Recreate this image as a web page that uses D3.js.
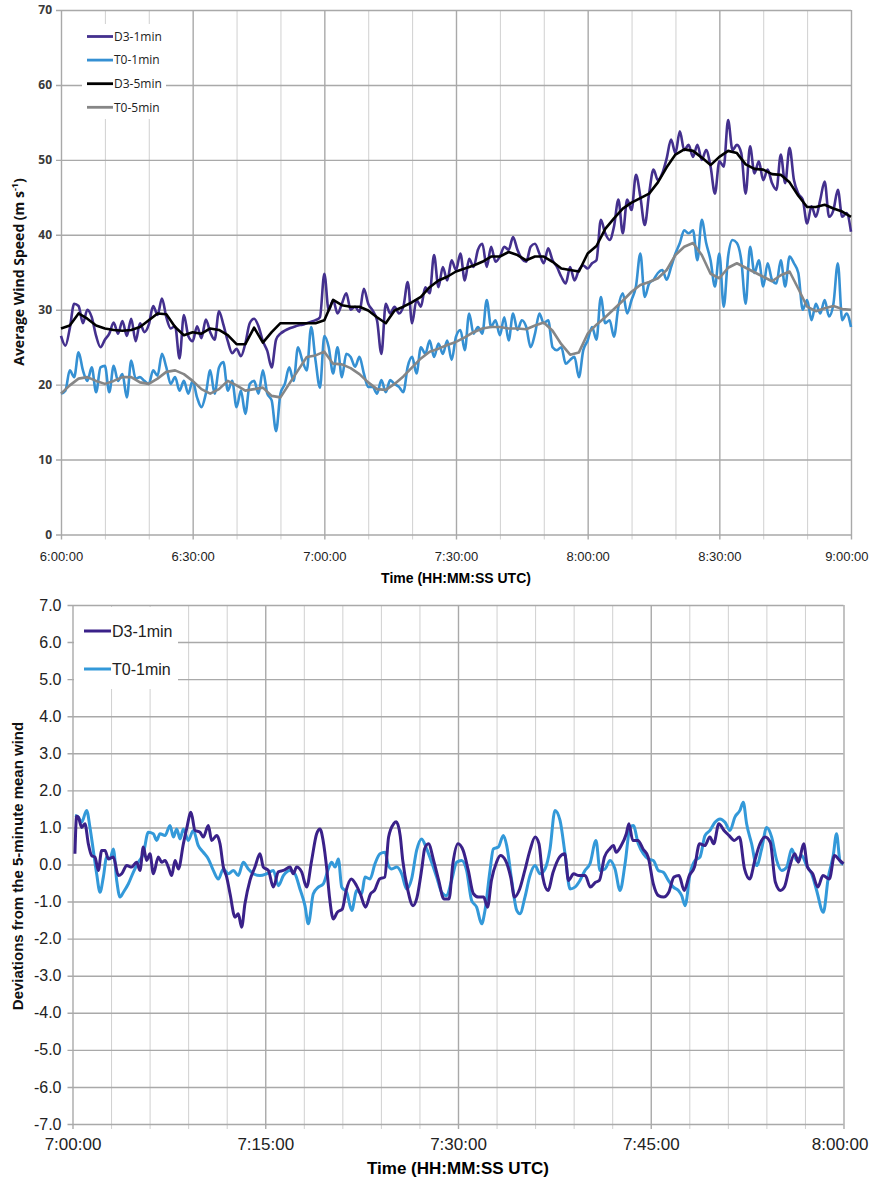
<!DOCTYPE html>
<html>
<head>
<meta charset="utf-8">
<script src="https://cdn.jsdelivr.net/npm/d3@7"></script>
<style>
  body { margin: 0; background: #fff; }
  svg { display: block; }
</style>
</head>
<body>
<svg id="chart" width="869" height="1181"></svg>
<script>
// ---------- top panel: average wind speed, 6:00 - 9:00 ----------
const topSeriesNames = ["D3-1min", "T0-1min", "D3-5min", "T0-5min"];
const topTickLabels = ["6:00:00", "6:30:00", "7:00:00", "7:30:00", "8:00:00", "8:30:00", "9:00:00"];
const topYTicks = [0, 10, 20, 30, 40, 50, 60, 70];

// one value per minute from 6:00
const d3OneMin = [
  26.5, 25.2, 27.5, 30.8, 30.5, 28.2, 30.0, 29.0, 26.5, 25.0,
  26.0, 26.8, 28.3, 26.8, 28.5, 26.5, 28.8, 25.8, 28.2, 27.0,
  28.0, 30.5, 29.3, 31.5, 29.0, 27.5, 27.8, 23.5, 29.3, 26.5,
  25.8, 27.8, 26.2, 28.7, 27.0, 26.0, 29.8, 28.0, 25.8, 24.2,
  24.8, 23.8, 25.5, 28.2, 28.8, 27.8, 25.8, 24.5, 22.3, 26.0,
  26.8, 27.2, 27.5, 27.7, 27.9, 28.0, 28.2, 28.4, 28.6, 29.0,
  34.8, 29.9, 31.3, 29.5, 30.8, 32.2, 30.0, 30.4, 29.7, 32.8,
  30.8, 29.9, 28.6, 24.1, 30.8, 29.5, 30.4, 29.5, 30.4, 33.7,
  28.2, 31.3, 30.4, 33.0, 32.2, 37.3, 33.0, 35.7, 33.9, 36.6,
  35.3, 37.5, 33.9, 36.8, 35.7, 38.0, 38.8, 35.7, 38.4, 36.4,
  37.1, 38.4, 38.0, 39.7, 38.0, 36.8, 36.4, 38.4, 38.8, 37.5,
  36.2, 38.2, 36.6, 35.7, 34.4, 33.5, 35.7, 33.9, 35.3, 35.9,
  35.5, 36.2, 36.6, 42.0, 40.2, 39.3, 41.1, 44.7, 40.2, 44.7,
  43.3, 48.0, 45.1, 41.3, 45.5, 48.7, 47.3, 48.2, 50.2, 52.7,
  50.9, 53.8, 51.3, 52.0, 50.4, 52.0, 50.0, 51.3, 49.1, 45.5,
  49.8, 49.1, 55.3, 51.3, 52.0, 50.9, 45.5, 51.8, 48.2, 49.8,
  47.3, 48.7, 46.9, 46.0, 50.7, 46.9, 51.6, 47.3, 45.5, 44.7,
  41.5, 43.8, 42.4, 44.7, 47.1, 42.4, 43.3, 46.0, 42.4, 42.9, 40.4
];
const t0OneMin = [
  18.8, 19.2, 21.9, 21.0, 24.3, 21.9, 20.5, 22.3, 19.0, 22.3,
  22.5, 19.0, 22.5, 20.5, 21.4, 18.3, 23.2, 20.8, 21.0, 20.5,
  20.1, 21.9, 21.2, 24.1, 22.3, 20.1, 21.0, 19.2, 20.5, 18.8,
  20.5, 18.3, 17.0, 18.8, 21.9, 18.8, 22.3, 23.0, 19.2, 20.5,
  17.0, 19.2, 16.1, 20.1, 20.5, 18.8, 21.9, 18.8, 17.9, 13.8,
  18.8, 20.1, 22.3, 20.5, 25.0, 23.2, 21.9, 27.7, 23.2, 19.6,
  26.5, 25.0, 21.5, 25.0, 21.0, 24.1, 23.7, 22.4, 23.7, 21.5,
  19.7, 19.7, 18.8, 20.6, 19.0, 20.6, 20.1, 19.7, 19.0, 22.4,
  23.7, 21.5, 25.0, 24.1, 25.9, 23.7, 25.5, 24.1, 25.9, 23.3,
  26.4, 27.3, 24.6, 29.5, 26.8, 27.7, 26.8, 31.3, 27.7, 28.6,
  26.6, 29.0, 25.9, 29.5, 27.3, 28.6, 27.7, 25.0, 26.8, 29.5,
  28.2, 28.6, 25.0, 24.6, 25.0, 22.8, 23.3, 23.7, 21.0, 24.6,
  25.9, 27.7, 26.0, 31.7, 28.2, 28.6, 26.4, 30.4, 32.2, 29.5,
  31.3, 33.1, 37.5, 31.7, 33.5, 34.0, 34.9, 35.3, 34.0, 35.7,
  37.5, 38.9, 40.6, 40.2, 40.6, 36.6, 42.0, 38.9, 36.6, 33.1,
  37.5, 30.4, 37.1, 39.3, 38.9, 36.6, 30.8, 38.4, 34.9, 36.6,
  33.1, 36.2, 34.0, 33.5, 36.6, 33.1, 37.1, 36.2, 34.9, 30.0,
  31.3, 28.6, 30.8, 29.5, 31.3, 29.1, 30.8, 36.2, 28.6, 29.5, 27.7
];
// one value every two minutes from 6:00
const d3FiveMin = [
  27.5, 27.9, 29.5, 28.8, 27.9, 27.5, 27.3, 27.2, 27.3, 27.7,
  28.6, 29.5, 29.4, 27.7, 26.6, 27.0, 26.8, 27.5, 27.3, 26.6,
  25.4, 25.4, 27.6, 25.6, 27.0, 28.2, 28.2, 28.2, 28.2, 28.2,
  28.6, 31.3, 30.6, 30.4, 30.4, 29.9, 29.0, 28.2, 29.9, 30.4,
  31.0, 31.7, 33.0, 33.9, 34.4, 35.1, 35.5, 35.9, 36.4, 37.1,
  37.1, 37.7, 37.3, 36.6, 37.1, 37.1, 36.4, 35.5, 35.3, 35.1,
  37.5, 38.5, 40.8, 42.2, 43.5, 44.3, 44.9, 45.5, 47.0, 49.0,
  50.7, 51.4, 51.2, 50.3, 49.3, 50.4, 51.2, 50.9, 49.4, 48.8,
  48.7, 48.1, 48.0, 47.0, 45.2, 43.7, 43.7, 44.0, 43.5, 43.1,
  42.4
];
const t0FiveMin = [
  18.8, 19.9, 20.8, 21.0, 20.5, 20.1, 20.5, 21.0, 21.0, 20.3,
  20.1, 20.8, 21.7, 21.9, 21.4, 20.5, 19.4, 18.8, 19.4, 20.5,
  19.9, 19.2, 19.4, 19.6, 18.5, 18.3, 20.1, 21.9, 23.7, 23.9,
  24.4, 22.8, 22.7, 22.2, 21.4, 20.3, 19.4, 19.3, 20.1, 21.1,
  22.3, 23.5, 24.4, 24.8, 25.3, 25.7, 26.3, 27.0, 27.5, 27.7,
  27.7, 27.5, 27.5, 27.4, 27.9, 28.3, 27.2, 25.4, 24.0, 24.3,
  26.8, 28.0, 29.0, 30.1, 31.2, 32.4, 33.3, 33.7, 34.2, 35.3,
  37.3, 38.4, 38.9, 37.3, 34.8, 34.2, 35.6, 36.2, 35.6, 35.0,
  34.4, 33.8, 34.6, 35.1, 32.8, 30.4, 29.8, 30.2, 30.5, 30.1,
  30.0
];

// ---------- bottom panel: deviations, 7:00 - 8:00 ----------
const botSeriesNames = ["D3-1min", "T0-1min"];
const botTickLabels = ["7:00:00", "7:15:00", "7:30:00", "7:45:00", "8:00:00"];
const botYTicks = [-7, -6, -5, -4, -3, -2, -1, 0, 1, 2, 3, 4, 5, 6, 7];
const botYLabels = ["-7.0", "-6.0", "-5.0", "-4.0", "-3.0", "-2.0", "-1.0", "0.0", "1.0", "2.0", "3.0", "4.0", "5.0", "6.0", "7.0"];

// minutes after 7:00 and deviation (m/s)
const d3DevTime = [
  0.19, 0.32, 0.45, 0.71, 0.97, 1.23, 1.49, 1.75, 2.01, 2.27,
  2.53, 2.79, 3.18, 3.57, 3.83, 4.22, 4.6, 4.99, 5.25, 5.51,
  5.77, 6.03, 6.29, 6.68, 6.94, 7.2, 7.46, 7.72, 7.98, 8.24,
  8.63, 8.88, 9.22, 9.53, 9.92, 10.18, 10.57, 10.83, 11.22, 11.48,
  11.74, 12.0, 12.26, 12.65, 12.9, 13.16, 13.42, 13.81, 14.2, 14.59,
  14.85, 15.24, 15.63, 16.02, 16.41, 16.93, 17.18, 17.44, 17.83, 18.22,
  18.61, 19.0, 19.26, 19.5, 19.8, 20.0, 20.3, 20.6, 21.0, 21.3,
  21.7, 22.1, 22.4, 22.8, 23.2, 23.5, 23.9, 24.3, 24.6, 25.0,
  25.2, 25.5, 25.7, 26.1, 26.5, 26.8, 27.2, 27.4, 27.7, 28.1,
  28.5, 28.9, 29.3, 29.6, 30.0, 30.4, 30.8, 31.2, 31.6, 32.0,
  32.3, 32.6, 33.0, 33.3, 33.7, 34.1, 34.4, 34.8, 35.2, 35.6,
  36.0, 36.3, 36.6, 37.0, 37.4, 37.9, 38.3, 38.6, 39.0, 39.4,
  39.9, 40.3, 40.7, 41.0, 41.4, 41.8, 42.1, 42.3, 42.7, 43.1,
  43.3, 43.6, 44.0, 44.4, 44.8, 45.2, 45.6, 46.0, 46.4, 46.8,
  47.2, 47.6, 48.0, 48.4, 48.8, 49.2, 49.6, 49.9, 50.3, 50.7,
  51.1, 51.5, 51.9, 52.3, 52.7, 53.1, 53.5, 53.9, 54.3, 54.7,
  55.1, 55.4, 55.8, 56.2, 56.5, 56.9, 57.2, 57.6, 58.0, 58.4,
  58.9, 59.3, 59.7, 60.0
];
const d3Dev = [
  0.29, 1.3, 1.28, 1.0, 1.1, 0.56, 0.24, 0.2, -0.16, 0.38,
  0.38, 0.15, 0.2, -0.3, -0.25, -0.03, -0.07, 0.06, -0.16, 0.47,
  0.11, 0.29, -0.25, 0.2, 0.06, 0.11, -0.07, -0.3, 0.11, -0.12,
  0.56, 0.96, 1.41, 0.92, 0.87, 0.74, 1.05, 0.65, 0.78, 0.56,
  -0.07, -0.34, -0.79, -1.42, -1.33, -1.69, -1.06, -0.43, -0.07, 0.29,
  -0.07, -0.16, -0.61, -0.2, -0.16, -0.07, -0.25, -0.07, -0.2, -0.61,
  0.11, 0.83, 0.96, 0.65, -0.16, -0.88, -1.47, -1.29, -1.2, -0.7,
  -0.39, -0.57, -0.79, -1.15, -0.79, -0.7, -0.39, -0.34, 0.74, 1.1,
  1.15, 0.78, 0.11, -0.7, -1.11, -0.9, -0.07, 0.42, 0.56, 0.11,
  -0.43, -0.93, -0.93, 0.02, 0.56, 0.38, -0.16, -0.79, -0.88, -0.88,
  -1.15, -0.43, 0.06, 0.24, 0.11, -0.34, -0.88, -0.66, -0.16, 0.38,
  0.74, 0.56, -0.34, -0.7, -0.21, 0.2, 0.29, -0.43, -0.25, -0.3,
  -0.3, -0.61, -0.48, -0.43, 0.2, 0.42, 0.51, 0.33, 0.51, 0.83,
  1.1, 0.65, 0.65, 0.42, 0.2, -0.52, -0.84, -0.88, -0.75, -0.34,
  -0.3, -0.7, -0.3, -0.07, 0.56, 0.51, 0.74, 0.56, 1.1, 0.92,
  0.78, 0.65, 0.74, -0.12, -0.39, 0.11, 0.56, 0.74, 0.6, -0.48,
  -0.7, -0.61, -0.07, 0.29, 0.06, 0.56, -0.07, -0.25, -0.61, -0.3,
  -0.39, 0.24, 0.11, 0.02
];
const t0DevTime = [
  0.19, 0.45, 0.71, 1.1, 1.36, 1.62, 1.88, 2.14, 2.4, 2.66,
  2.92, 3.18, 3.44, 3.7, 3.96, 4.35, 4.73, 5.12, 5.51, 5.9,
  6.29, 6.55, 6.81, 7.2, 7.59, 7.85, 8.11, 8.37, 8.63, 9.01,
  9.4, 9.79, 10.18, 10.57, 10.96, 11.35, 11.74, 12.13, 12.52, 12.9,
  13.29, 13.68, 14.07, 14.59, 15.11, 15.63, 16.02, 16.41, 16.93, 17.31,
  17.7, 18.09, 18.35, 18.74, 19.13, 19.52, 19.91, 20.17, 20.43, 20.69,
  20.95, 21.34, 21.73, 22.12, 22.5, 22.76, 23.15, 23.54, 23.93, 24.32,
  24.58, 24.84, 25.23, 25.62, 26.0, 26.39, 26.78, 27.17, 27.56, 27.95,
  28.34, 28.73, 29.12, 29.5, 29.89, 30.28, 30.67, 31.06, 31.45, 31.84,
  32.1, 32.49, 32.75, 33.14, 33.53, 33.79, 34.18, 34.57, 34.82, 35.21,
  35.6, 35.99, 36.38, 36.77, 37.16, 37.55, 37.94, 38.33, 38.72, 39.1,
  39.49, 39.88, 40.27, 40.74, 41.05, 41.44, 41.83, 42.22, 42.61, 43.0,
  43.39, 43.64, 44.03, 44.42, 44.81, 45.2, 45.59, 45.98, 46.37, 46.76,
  47.15, 47.41, 47.67, 48.06, 48.45, 48.83, 49.22, 49.61, 50.0, 50.39,
  50.78, 51.17, 51.55, 51.94, 52.2, 52.46, 52.85, 53.24, 53.63, 54.02,
  54.41, 54.8, 55.19, 55.58, 55.97, 56.36, 56.75, 57.13, 57.52, 57.91,
  58.43, 58.82, 59.2, 59.46, 59.72, 59.98
];
const t0Dev = [
  1.32, 1.28, 1.14, 1.46, 1.0, 0.38, -0.25, -0.75, -0.34, 0.2,
  0.15, 0.42, -0.43, -0.88, -0.75, -0.52, -0.21, 0.06, 0.29, 0.87,
  0.83, 0.65, 0.83, 0.78, 1.05, 0.74, 0.96, 0.69, 0.96, 0.65,
  0.92, 0.51, 0.33, 0.15, -0.16, -0.39, -0.12, -0.25, -0.16, -0.3,
  0.06, -0.12, -0.25, -0.3, -0.25, -0.16, -0.57, -0.3, -0.16, -0.25,
  -0.66, -1.11, -1.6, -0.79, -0.61, -0.52, -0.12, 0.06, -0.07, 0.15,
  -0.61, -0.75, -1.24, -0.7, -0.79, -0.34, -0.39, 0.02, 0.29, 0.33,
  -0.03, -0.12, -0.07, -0.25, -0.66, -0.39, 0.38, 0.69, 0.42, 0.06,
  -0.34, -0.75, -0.84, -0.43, 0.06, 0.11, -0.16, -0.97, -1.15, -1.6,
  -1.24, -0.16, 0.42, 0.47, 0.78, 0.51, -0.43, -1.24, -1.33, -0.88,
  -0.3, -0.03, -0.25, -0.12, 0.42, 1.46, 1.19, 0.29, -0.66, -0.61,
  -0.43, -0.16, 0.02, 0.65, -0.16, -0.12, 0.11, -0.12, -0.7, 0.02,
  1.0, 1.05, 0.56, 0.29, 0.15, 0.11, -0.16, -0.21, -0.43, -0.61,
  -0.7, -0.84, -1.11, -0.25, 0.11, 0.2, 0.78, 0.92, 1.14, 1.23,
  1.14, 0.92, 1.28, 1.46, 1.68, 1.1, 0.56, -0.03, 0.42, 1.0,
  0.74, 0.11, -0.16, -0.07, 0.42, 0.11, 0.24, -0.03, -0.25, -0.7,
  -1.29, -0.34, 0.24, 0.83, 0.11, 0.0
];

// ---------- shared styling ----------
const sans = "'Liberation Sans', Arial, sans-serif";
const narrow = "'Liberation Sans Narrow', 'Liberation Sans', Arial, sans-serif";
const gridMinor = "#d0d0d0";
const gridMajor = "#a9a9a9";

const svg = d3.select("#chart");

//pair up a time list with a value list
function zipSeries(times, values) {
  const n = Math.min(times.length, values.length);
  return d3.range(n).map(i => ({ t: times[i], v: values[i] }));
}

//draws grid, tick labels and axis titles of one panel
function drawFrame(g, x, y, box, opt) {
  const innerH = box.bottom - box.top;
  const innerW = box.right - box.left;

  //vertical grid, the lines stick out below the frame as ticks
  g.append("g")
    .attr("transform", `translate(0,${box.bottom})`)
    .call(d3.axisBottom(x).tickValues(opt.xGrid).tickSize(-innerH).tickSizeOuter(0).tickFormat(""))
    .call(a => a.select(".domain").remove())
    .call(a => a.selectAll(".tick line")
      .attr("y1", 5)
      .attr("stroke", d => opt.isMajorX(d) ? gridMajor : gridMinor)
      .attr("stroke-width", d => opt.isMajorX(d) ? 1.4 : 1));

  //horizontal grid with y tick labels
  g.append("g")
    .attr("transform", `translate(${box.left},0)`)
    .call(d3.axisLeft(y).tickValues(opt.yTicks).tickSize(-innerW).tickSizeOuter(0)
      .tickPadding(opt.yPad).tickFormat((d, i) => opt.yLabels[i]))
    .call(a => a.select(".domain").remove())
    .call(a => a.selectAll(".tick line").attr("x1", -5).attr("stroke", gridMajor).attr("stroke-width", 1.4))
    .call(a => a.selectAll(".tick text")
      .attr("fill", opt.yFill)
      .style("font-family", opt.yFont)
      .style("font-size", opt.ySize + "px")
      .style("font-weight", opt.yWeight));

  //x tick labels, the last one is pulled in so it stays on the page
  const n = opt.xTicks.length;
  g.append("g")
    .attr("transform", `translate(0,${box.bottom})`)
    .call(d3.axisBottom(x).tickValues(opt.xTicks).tickSize(0).tickPadding(opt.xPad)
      .tickFormat((d, i) => opt.xLabels[i]))
    .call(a => a.select(".domain").remove())
    .call(a => a.selectAll(".tick text")
      .attr("fill", "#222")
      .style("font-family", opt.xFont)
      .style("font-size", opt.xSize + "px"))
    .call(a => a.selectAll(".tick text").filter((d, i) => i === n - 1)
      .attr("text-anchor", "end")
      .attr("dx", 868 - x(opt.xTicks[n - 1])));
}

// ================= TOP PANEL =================
const topBox = { left: 61, right: 851, top: 10, bottom: 534.5 };
const xTop = d3.scaleLinear().domain([0, 180]).range([topBox.left, topBox.right]);
const yTop = d3.scaleLinear().domain([0, 70]).range([topBox.bottom, topBox.top]);
const gTop = svg.append("g");

drawFrame(gTop, xTop, yTop, topBox, {
  xGrid: d3.range(0, 181, 10),
  isMajorX: d => d % 30 === 0,
  xTicks: d3.range(0, 181, 30),
  xLabels: topTickLabels,
  xFont: sans, xSize: 13, xPad: 17,
  yTicks: topYTicks,
  yLabels: topYTicks.map(String),
  yFont: "'Open Sans', sans-serif", ySize: 12, yWeight: "bold", yFill: "#3a3a3a", yPad: 9
});

const topSeries = [
  { name: topSeriesNames[1], pts: zipSeries(d3.range(181), t0OneMin), color: "#3590d3", width: 2.6, curve: d3.curveMonotoneX },
  { name: topSeriesNames[0], pts: zipSeries(d3.range(181), d3OneMin), color: "#44308e", width: 2.6, curve: d3.curveMonotoneX },
  { name: topSeriesNames[3], pts: zipSeries(d3.range(0, 181, 2), t0FiveMin), color: "#868686", width: 2.6, curve: d3.curveLinear },
  { name: topSeriesNames[2], pts: zipSeries(d3.range(0, 181, 2), d3FiveMin), color: "#000000", width: 2.6, curve: d3.curveLinear }
];

gTop.selectAll("path.series").data(topSeries).join("path")
  .attr("class", "series")
  .attr("d", d => d3.line().curve(d.curve).x(p => xTop(p.t)).y(p => yTop(p.v))(d.pts))
  .attr("fill", "none")
  .attr("stroke", d => d.color)
  .attr("stroke-width", d => d.width)
  .attr("stroke-linejoin", "round");

// legend
const topLegendColors = ["#44308e", "#3590d3", "#000000", "#868686"];
gTop.append("rect").attr("x", 82).attr("y", 24).attr("width", 84).attr("height", 95).attr("fill", "#fff");
const topLeg = gTop.selectAll("g.leg").data(topSeriesNames).join("g")
  .attr("class", "leg")
  .attr("transform", (d, i) => `translate(87,${36.5 + i * 23.6})`);
topLeg.append("line").attr("x1", 0).attr("x2", 26)
  .attr("stroke", (d, i) => topLegendColors[i]).attr("stroke-width", 2.8);
topLeg.append("text").attr("x", 27).attr("dy", "0.35em")
  .style("font-family", "'Open Sans', sans-serif").style("font-size", "12px")
  .attr("fill", "#222").text(d => d);

// axis titles
gTop.append("text")
  .attr("x", (topBox.left + topBox.right) / 2).attr("y", 583)
  .attr("text-anchor", "middle")
  .style("font-family", narrow).style("font-size", "14px").style("font-weight", "bold")
  .text("Time (HH:MM:SS UTC)");
const topYTitle = gTop.append("text")
  .attr("transform", "translate(24,272) rotate(-90)")
  .attr("text-anchor", "middle")
  .style("font-family", "'Open Sans', sans-serif").style("font-size", "14px").style("font-weight", "bold")
  .attr("fill", "#111");
topYTitle.append("tspan").text("Average Wind Speed (m s");
topYTitle.append("tspan").attr("baseline-shift", "super").style("font-size", "9px").text("-1");
topYTitle.append("tspan").text(")");

// ================= BOTTOM PANEL =================
const botBox = { left: 72.5, right: 843.5, top: 605, bottom: 1124 };
const xBot = d3.scaleLinear().domain([0, 60]).range([botBox.left, botBox.right]);
const yBot = d3.scaleLinear().domain([-7, 7]).range([botBox.bottom, botBox.top]);
const gBot = svg.append("g");

drawFrame(gBot, xBot, yBot, botBox, {
  xGrid: d3.range(0, 61, 3),
  isMajorX: d => d % 15 === 0,
  xTicks: d3.range(0, 61, 15),
  xLabels: botTickLabels,
  xFont: narrow, xSize: 17, xPad: 14,
  yTicks: botYTicks,
  yLabels: botYLabels,
  yFont: sans, ySize: 16, yWeight: "normal", yFill: "#222", yPad: 11
});

const botSeries = [
  { name: botSeriesNames[1], pts: zipSeries(t0DevTime, t0Dev), color: "#3399d9" },
  { name: botSeriesNames[0], pts: zipSeries(d3DevTime, d3Dev), color: "#3a2189" }
];
const lineBot = d3.line().curve(d3.curveMonotoneX).x(d => xBot(d.t)).y(d => yBot(d.v));
gBot.selectAll("path.series").data(botSeries).join("path")
  .attr("class", "series")
  .attr("d", d => lineBot(d.pts))
  .attr("fill", "none")
  .attr("stroke", d => d.color)
  .attr("stroke-width", 3)
  .attr("stroke-linejoin", "round");

// legend
const botLegendColors = ["#3a2189", "#3399d9"];
gBot.append("rect").attr("x", 74).attr("y", 607).attr("width", 104).attr("height", 82).attr("fill", "#fff");
const botLeg = gBot.selectAll("g.leg").data(botSeriesNames).join("g")
  .attr("class", "leg")
  .attr("transform", (d, i) => `translate(84,${631 + i * 38})`);
botLeg.append("line").attr("x1", 0).attr("x2", 27)
  .attr("stroke", (d, i) => botLegendColors[i]).attr("stroke-width", 3);
botLeg.append("text").attr("x", 28).attr("dy", "0.36em")
  .style("font-family", sans).style("font-size", "16px")
  .attr("fill", "#222").text(d => d);

// axis titles
gBot.append("text")
  .attr("x", (botBox.left + botBox.right) / 2).attr("y", 1174)
  .attr("text-anchor", "middle")
  .style("font-family", narrow).style("font-size", "17px").style("font-weight", "bold")
  .text("Time (HH:MM:SS UTC)");
gBot.append("text")
  .attr("transform", "translate(23,866) rotate(-90)")
  .attr("text-anchor", "middle")
  .style("font-family", sans).style("font-size", "15px").style("font-weight", "bold")
  .attr("fill", "#111")
  .text("Deviations from the 5-minute mean wind");
</script>
</body>
</html>
